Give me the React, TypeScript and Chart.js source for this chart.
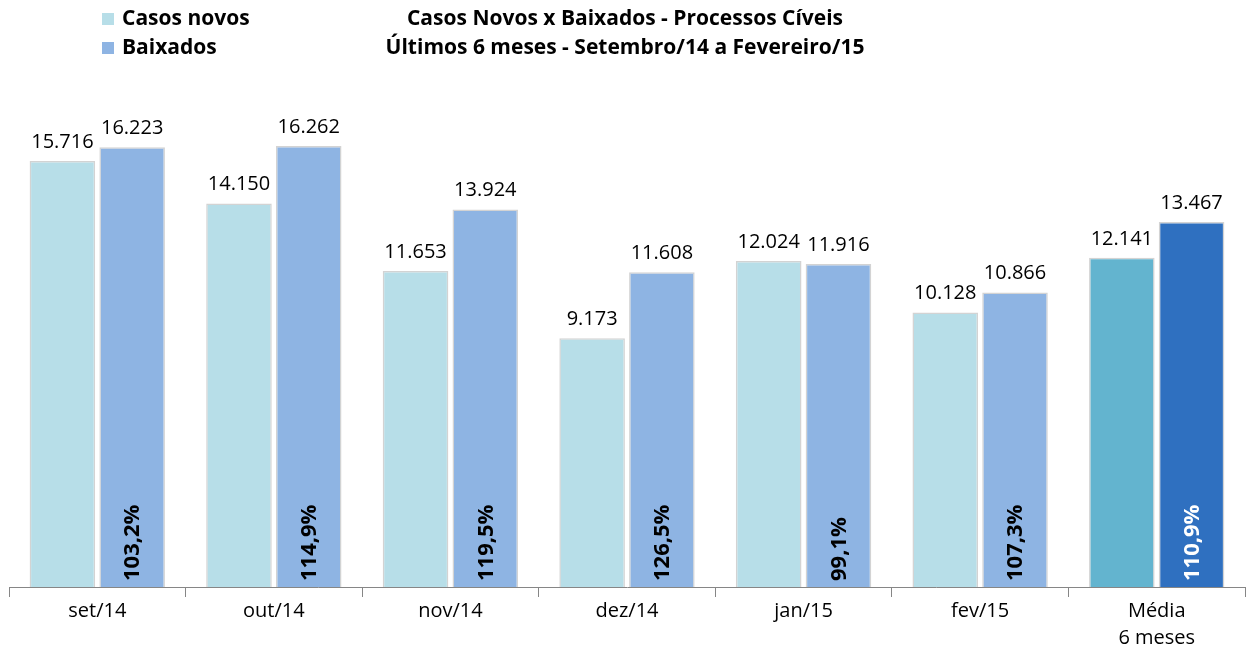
import React, { useEffect, useRef } from "react";
import { Chart, registerables } from "chart.js";
Chart.register(...registerables);

const categories: (string | string[])[] = ["set/14", "out/14", "nov/14", "dez/14", "jan/15", "fev/15", ["Média", "6 meses"]];
const casosNovos = [15716, 14150, 11653, 9173, 12024, 10128, 12141];
const baixados = [16223, 16262, 13924, 11608, 11916, 10866, 13467];
const ratios = ["103,2%", "114,9%", "119,5%", "126,5%", "99,1%", "107,3%", "110,9%"];
const titleLines = ["Casos Novos x Baixados - Processos Cíveis", "Últimos 6 meses - Setembro/14 a Fevereiro/15"];
const seriesNames = ["Casos novos", "Baixados"];

const casosColors = ["#B7DEE8", "#B7DEE8", "#B7DEE8", "#B7DEE8", "#B7DEE8", "#B7DEE8", "#63B4CF"];
const baixColors = ["#8EB4E3", "#8EB4E3", "#8EB4E3", "#8EB4E3", "#8EB4E3", "#8EB4E3", "#2F70C0"];
const FONT = "'Open Sans', sans-serif";

const fmt = (v: number) => {
  const s = String(v);
  return s.length > 3 ? s.slice(0, s.length - 3) + "." + s.slice(-3) : s;
};

const labelsPlugin = {
  id: "customLabels",
  afterDatasetsDraw(chart: any) {
    const ctx = chart.ctx;
    ctx.save();
    ctx.fillStyle = "#000";
    ctx.font = `20px ${FONT}`;
    ctx.textAlign = "center";
    ctx.textBaseline = "bottom";
    chart.data.datasets.forEach((ds: any, di: number) => {
      const meta = chart.getDatasetMeta(di);
      meta.data.forEach((bar: any, i: number) => {
        ctx.fillText(fmt(ds.data[i]), bar.x, bar.y - 9);
      });
    });
    const meta1 = chart.getDatasetMeta(1);
    ctx.font = `bold 22px ${FONT}`;
    meta1.data.forEach((bar: any, i: number) => {
      ctx.save();
      ctx.translate(bar.x, bar.base - 6);
      ctx.rotate(-Math.PI / 2);
      ctx.textAlign = "left";
      ctx.textBaseline = "middle";
      ctx.fillStyle = i === ratios.length - 1 ? "#FFFFFF" : "#000000";
      ctx.fillText(ratios[i], 0, 1);
      ctx.restore();
    });
    ctx.restore();
  },
  afterDraw(chart: any) {
    const ctx = chart.ctx;
    ctx.save();
    ctx.fillStyle = "#000";
    ctx.font = `bold 21px ${FONT}`;
    ctx.textAlign = "center";
    ctx.textBaseline = "middle";
    ctx.fillText(titleLines[0], 625, 19);
    ctx.fillText(titleLines[1], 625, 48);
    const legendColors = [casosColors[0], baixColors[0]];
    seriesNames.forEach((n, i) => {
      const y = 19 + i * 29;
      ctx.fillStyle = legendColors[i];
      ctx.fillRect(102, y - 6, 12, 12);
      ctx.fillStyle = "#000";
      ctx.textAlign = "left";
      ctx.fillText(n, 122, y);
    });
    ctx.restore();
  },
};

export default function App() {
  const ref = useRef<HTMLCanvasElement>(null);
  useEffect(() => {
    document.body.style.margin = "0";
    const chart = new Chart(ref.current!, {
      type: "bar",
      data: {
        labels: categories,
        datasets: [
          {
            label: seriesNames[0],
            data: casosNovos,
            backgroundColor: casosColors,
            borderColor: "rgba(200,200,200,0.8)",
            borderWidth: 1.5,
            categoryPercentage: 0.79,
            barPercentage: 0.94,
          },
          {
            label: seriesNames[1],
            data: baixados,
            backgroundColor: baixColors,
            borderColor: "rgba(200,200,200,0.8)",
            borderWidth: 1.5,
            categoryPercentage: 0.79,
            barPercentage: 0.94,
          },
        ],
      },
      options: {
        animation: false,
        responsive: true,
        maintainAspectRatio: false,
        layout: { padding: { top: 99, left: 9, right: 7, bottom: 0 } },
        plugins: { legend: { display: false }, title: { display: false }, tooltip: { enabled: false } },
        scales: {
          y: { display: false, min: 0, max: 18000 },
          x: {
            afterFit(scale: any) {
              scale.height = 65;
            },
            border: { display: true, color: "#868686", width: 1 },
            grid: { display: true, drawOnChartArea: false, drawTicks: true, tickLength: 10, color: "#868686", offset: true },
            ticks: { color: "#000", font: { family: FONT, size: 20, lineHeight: 1.35 }, padding: 1 },
          },
        },
      },
      plugins: [labelsPlugin],
    });
    return () => chart.destroy();
  }, []);
  return (
    <div style={{ width: 1252, height: 652, position: "relative" }}>
      <canvas ref={ref} />
    </div>
  );
}
